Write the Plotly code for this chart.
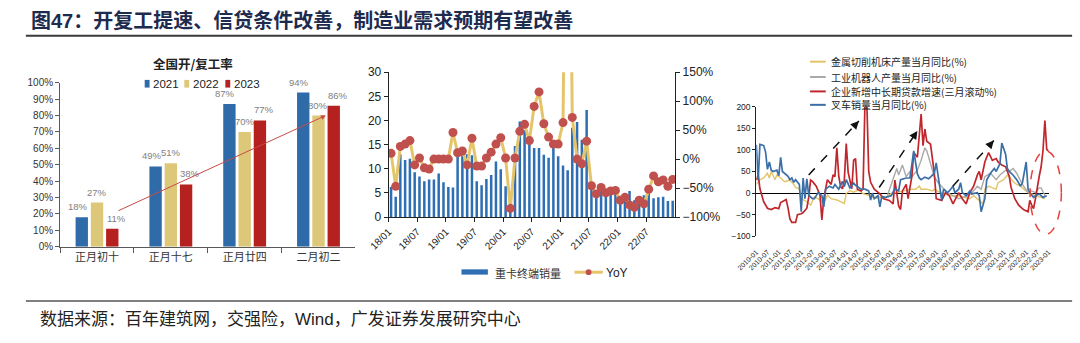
import plotly.graph_objects as go

W, H = 1080, 343
def px(x): return x / W
def py(y): return 1 - y / H

CJK = "Noto Sans CJK SC"
ARIAL = "Liberation Sans, Noto Sans CJK SC"

# ---------------- Panel 1: 全国开/复工率 ----------------
stages = ['正月初十', '正月十七', '正月廿四', '二月初二']
rate_2021 = [18, 49, 87, 94]
rate_2022 = [27, 51, 70, 80]
rate_2023 = [11, 38, 77, 86]
year_names = ['2021', '2022', '2023']
year_colors = ['#2f6ba8', '#dcc878', '#b4211e']

# ---------------- Panel 2: 重卡终端销量 (万辆) and YoY (%) ----------------
truck_months = [
    '2018-01', '2018-02', '2018-03', '2018-04', '2018-05', '2018-06', '2018-07', '2018-08', '2018-09', '2018-10', '2018-11', '2018-12',
    '2019-01', '2019-02', '2019-03', '2019-04', '2019-05', '2019-06', '2019-07', '2019-08', '2019-09', '2019-10', '2019-11', '2019-12',
    '2020-01', '2020-02', '2020-03', '2020-04', '2020-05', '2020-06', '2020-07', '2020-08', '2020-09', '2020-10', '2020-11', '2020-12',
    '2021-01', '2021-02', '2021-03', '2021-04', '2021-05', '2021-06', '2021-07', '2021-08', '2021-09', '2021-10', '2021-11', '2021-12',
    '2022-01', '2022-02', '2022-03', '2022-04', '2022-05', '2022-06', '2022-07', '2022-08', '2022-09', '2022-10', '2022-11', '2022-12',
]
truck_sales = [
    6.2, 4.2, 13.0, 11.8, 12.1, 9.3, 8.4, 7.4, 7.8, 7.8, 9.0, 7.2,
    6.2, 6.1, 14.0, 13.4, 13.0, 12.8, 7.4, 6.6, 7.9, 8.7, 11.5, 9.9,
    6.4, 1.9, 14.7, 19.8, 18.0, 15.8, 14.3, 14.3, 12.9, 12.3, 15.1, 12.6,
    10.7, 9.7, 18.5, 19.7, 16.0, 22.2, 6.8, 5.0, 5.8, 5.5, 6.1, 5.6,
    4.3, 3.6, 5.4, 3.5, 3.7, 4.5, 5.0, 3.9, 4.1, 4.2, 3.3, 3.4,
]
truck_yoy = [
    10, -47, 22, 26, 32, -10, 2, -15, -17, 0, 0, 0,
    0, 46, 11, 14, -10, 36, -12, -12, 2, 12, 26, 37,
    2, -85, 2, 48, 60, 32, 91, 116, 61, 38, 26, 26,
    63, 800, 72, 0, -8, 31, -46, -60, -49, -58, -55, -54,
    -71, -66, -79, -83, -71, -77, -52, -29, -39, -36, -47, -35,
]
truck_tick_dates = ['2018-01-01', '2018-07-01', '2019-01-01', '2019-07-01', '2020-01-01',
                    '2020-07-01', '2021-01-01', '2021-07-01', '2022-01-01', '2022-07-01']
truck_tick_labels = ['18/01', '18/07', '19/01', '19/07', '20/01', '20/07', '21/01', '21/07', '22/01', '22/07']

# ---------------- Panel 3: 制造业需求指标 (%) ----------------
tool_dates = [
    '2010-01', '2010-03', '2010-05', '2010-07', '2010-08', '2010-09', '2010-11', '2010-12',
    '2011-02', '2011-04', '2011-05', '2011-07', '2011-09', '2011-10', '2011-12',
    '2012-01', '2012-04', '2012-06', '2012-08', '2012-10', '2012-12',
    '2013-01', '2013-03', '2013-05', '2013-08', '2013-10', '2013-12',
    '2014-01', '2014-03', '2014-05', '2014-07', '2014-08', '2014-10', '2014-12',
    '2015-02', '2015-04', '2015-07', '2015-09', '2015-12',
    '2016-01', '2016-04', '2016-08', '2016-11',
    '2017-02', '2017-04', '2017-05', '2017-08', '2017-11', '2017-12',
    '2018-03', '2018-06', '2018-08', '2018-11',
    '2019-01', '2019-04', '2019-07', '2019-09', '2019-11',
    '2020-02', '2020-03', '2020-05', '2020-07', '2020-09', '2020-10',
    '2021-01', '2021-03', '2021-04', '2021-06', '2021-08', '2021-10', '2021-12',
    '2022-02', '2022-04', '2022-06', '2022-09', '2022-11',
]
tool_yoy = [
    20, 31, 35, 46, 35, 50, 31, 42,
    35, 27, 27, 31, 20, 13, 10,
    -13, -20, -28, -9, -13, -20,
    -24, -5, -13, -16, -20, -24,
    -1, 6, 2, 6, 6, -1, -4,
    -5, -13, -9, -13, -5,
    -1, 1, 6, 9,
    9, 16, 9, 9, 5, 9,
    1, -2, -6, -6,
    -6, -10, -13, -6, -13,
    -25, 9, 16, 12, 9, 24,
    31, 42, 38, 27, 20, 16, 9,
    1, -2, -6, -10, -13,
]

robot_dates = [
    '2015-11',
    '2016-01', '2016-02', '2016-04', '2016-05', '2016-07', '2016-09', '2016-11', '2016-12',
    '2017-03', '2017-05', '2017-07', '2017-08', '2017-09', '2017-11', '2017-12',
    '2018-02', '2018-05', '2018-07', '2018-10',
    '2019-01', '2019-03', '2019-06', '2019-08', '2019-11',
    '2020-01', '2020-03', '2020-06', '2020-09', '2020-11',
    '2021-02', '2021-04', '2021-06', '2021-08', '2021-10', '2021-11',
    '2022-02', '2022-04', '2022-06', '2022-08', '2022-09', '2022-11',
]
robot_yoy = [
    -5,
    20, 31, 57, 42, 65, 38, 50, 38,
    53, 76, 105, 98, 83, 57, 38,
    24, 9, 1, -6,
    -13, -10, -6, 1, 16,
    9, 38, 46, 31, 42,
    53, 50, 57, 46, 27, 20,
    1, 5, 1, 12, 12, -6,
]

loan_dates = [
    '2010-01', '2010-02', '2010-03', '2010-05', '2010-07', '2010-09', '2010-11',
    '2011-01', '2011-02', '2011-04', '2011-05', '2011-06', '2011-07', '2011-08', '2011-10', '2011-11',
    '2012-01', '2012-02', '2012-04', '2012-05', '2012-06', '2012-07', '2012-09', '2012-11', '2012-12',
    '2013-01', '2013-03', '2013-05', '2013-06', '2013-07', '2013-08', '2013-09', '2013-10', '2013-11', '2013-12',
    '2014-01', '2014-02', '2014-04', '2014-05', '2014-06', '2014-07', '2014-09', '2014-10', '2014-11', '2014-12',
    '2015-01', '2015-02', '2015-04', '2015-07', '2015-09', '2015-12',
    '2016-02', '2016-03', '2016-05', '2016-06', '2016-07', '2016-09', '2016-10', '2016-11', '2016-12',
    '2017-01', '2017-03', '2017-05', '2017-06', '2017-07', '2017-08', '2017-10', '2017-11', '2017-12',
    '2018-01', '2018-04', '2018-06', '2018-08', '2018-10', '2018-12',
    '2019-01', '2019-03', '2019-05', '2019-07', '2019-09', '2019-11', '2019-12',
    '2020-01', '2020-03', '2020-05', '2020-07', '2020-09', '2020-10', '2020-12',
    '2021-02', '2021-04', '2021-05', '2021-07', '2021-09', '2021-11', '2021-12',
    '2022-02', '2022-03', '2022-04', '2022-05', '2022-06', '2022-07', '2022-08', '2022-09', '2022-10', '2022-11', '2022-12',
    '2023-01',
]
loan_growth = [
    30, 42, 10, -20, -35, -38, -34,
    -36, -22, -18, -15, -35, -60, -68, -68, -50,
    -48, -45, -35, -10, 30, 27, 16, -5, -62,
    -13, 31, 20, 42, 38, 105, 40, 15, 10, 30,
    115, 48, 10, 76, 80, 9, 5, 10, 210, 210,
    50, 25, 9, -2, -13, -17,
    -25, 30, -30, -38, 5, 20, -13, 9, 38,
    94, 83, 183, 110, 148, 120, 113, 83, 46,
    -13, -17, 1, -6, -25, -6,
    1, -13, -25, 1, 16, 42, 50,
    31, 72, 94, 76, 80, 72, 65,
    61, 39, 13, -13, -28, -36, -39,
    -43, -17, -28, -36, -13, 16, 39, 61, 98, 168, 101,
    98,
]

forklift_dates = [
    '2010-01', '2010-02', '2010-03', '2010-05', '2010-06', '2010-07', '2010-08', '2010-09', '2010-10', '2010-12',
    '2011-01', '2011-02', '2011-03', '2011-04', '2011-06', '2011-07', '2011-08', '2011-09', '2011-10', '2011-12',
    '2012-01', '2012-02', '2012-03', '2012-04', '2012-05', '2012-07', '2012-08', '2012-10', '2012-12',
    '2013-01', '2013-02', '2013-04', '2013-06', '2013-07', '2013-09', '2013-11', '2013-12',
    '2014-01', '2014-03', '2014-05', '2014-06', '2014-08', '2014-09', '2014-11',
    '2015-01', '2015-02', '2015-03', '2015-04', '2015-06', '2015-07', '2015-08', '2015-10',
    '2016-01', '2016-03', '2016-05', '2016-06', '2016-09', '2016-11',
    '2017-01', '2017-03', '2017-04', '2017-05', '2017-07', '2017-09', '2017-11', '2017-12',
    '2018-01', '2018-03', '2018-04', '2018-05', '2018-07', '2018-08', '2018-10', '2018-11',
    '2019-01', '2019-02', '2019-03', '2019-05', '2019-07', '2019-08', '2019-11', '2019-12',
    '2020-01', '2020-03', '2020-04', '2020-06', '2020-08', '2020-09', '2020-11', '2020-12',
    '2021-02', '2021-03', '2021-04', '2021-06', '2021-08', '2021-10', '2021-11',
    '2022-01', '2022-02', '2022-03', '2022-05', '2022-06', '2022-08', '2022-10', '2022-12',
]
forklift_yoy = [
    112, 30, 113, 110, 95, 55, 72, 53, 50, 53,
    40, 83, 50, 46, 39, 31, 35, 25, 31, 20,
    -43, 35, -13, 33, -5, -13, -13, 1, -6,
    -32, 9, 16, 12, 20, 9, 27, 15,
    31, 12, 23, 18, 12, 9, 9,
    5, -16, 0, -13, -6, -32, -8, -10,
    -6, 10, 5, 31, 35, 35,
    98, 45, 35, 31, 37, 33, 42, 46,
    70, 9, -17, 9, 1, 5, 16, 1,
    9, 24, 1, -6, 5, -2, 1, -6,
    -43, -13, 31, 46, 57, 50, 68, 116,
    90, 57, 50, 42, 31, 16, 24,
    72, 9, 1, -10, -6, -2, -10, -6,
]

series3_names = ['金属切削机床产量当月同比(%)', '工业机器人产量当月同比(%)',
                 '企业新增中长期贷款增速(三月滚动%)', '叉车销量当月同比(%)']
series3_colors = ['#e3c46a', '#a9a9a9', '#c0272d', '#3b6fa8']

axis3_tick_labels = ['2010-01', '2010-07', '2011-01', '2011-07', '2012-01', '2012-07', '2013-01',
                     '2013-07', '2014-01', '2014-07', '2015-01', '2015-07', '2016-01', '2016-07',
                     '2017-01', '2017-07', '2018-01', '2018-07', '2019-01', '2019-07', '2020-01',
                     '2020-07', '2021-01', '2021-07', '2022-01', '2022-07', '2023-01']

# dashed trend arrows (start date, start value, end date, end value)
trend_arrows = [
    ('2012-05-01', 42, '2014-07-25', 167),
    ('2015-06-20', 13, '2017-03-01', 144),
    ('2018-09-28', 16, '2020-07-25', 122),
]
trend_heads = [(-6.8, 7.3), (-5.5, 8.3), (-6.6, 7.5)]

assert len(truck_months) == len(truck_sales) == len(truck_yoy)
assert len(tool_dates) == len(tool_yoy)
assert len(robot_dates) == len(robot_yoy)
assert len(loan_dates) == len(loan_growth)
assert len(forklift_dates) == len(forklift_yoy)

fig = go.Figure()

# Panel 1 bars
for name, vals, col in zip(year_names, [rate_2021, rate_2022, rate_2023], year_colors):
    fig.add_trace(go.Bar(
        x=stages, y=vals, name=name, marker=dict(color=col, line=dict(width=0)),
        xaxis='x', yaxis='y', showlegend=False,
    ))

# Panel 2 bars + YoY line
fig.add_trace(go.Bar(
    x=truck_months, y=truck_sales, name='重卡终端销量', marker=dict(color='#2e6eb3', line=dict(width=0)),
    xperiod='M1', xperiodalignment='middle', width=1382400000,
    xaxis='x2', yaxis='y2', showlegend=False,
))
fig.add_trace(go.Scatter(
    x=truck_months, y=truck_yoy, name='YoY', mode='lines+markers',
    line=dict(color='#e5c56b', width=3), marker=dict(color='#c0504d', size=9),
    xperiod='M1', xperiodalignment='middle',
    xaxis='x2', yaxis='y3', showlegend=False,
))

# Panel 3 lines
for name, xs, ys, col, w in zip(series3_names,
                                [tool_dates, robot_dates, loan_dates, forklift_dates],
                                [tool_yoy, robot_yoy, loan_growth, forklift_yoy],
                                series3_colors, [1.4, 1.4, 1.7, 1.7]):
    fig.add_trace(go.Scatter(
        x=xs, y=ys, name=name, mode='lines', line=dict(color=col, width=w),
        xaxis='x4', yaxis='y4', showlegend=False,
    ))

shapes = []
annotations = []

# Panel 1 data labels (above each bar, nudged apart like the original)
slot = (1 - 0.38) / 3
for j, vals in enumerate([rate_2021, rate_2022, rate_2023]):
    for i, v in enumerate(vals):
        annotations.append(dict(text=f'{v}%', x=i + (j - 1) * slot, y=v, xref='x', yref='y',
                                xanchor='center', yanchor='bottom', yshift=3, xshift=(j - 1) * 4,
                                showarrow=False, font=dict(family=ARIAL, size=9.5, color='#808080')))

# Title, rules and source
annotations.append(dict(text='<b>图47：开复工提速、信贷条件改善，制造业需求预期有望改善</b>',
                        x=px(8), y=py(15), xref='paper', yref='paper', xanchor='left', yanchor='middle',
                        showarrow=False, font=dict(family=ARIAL, size=20, color='#1d2b4f')))
shapes.append(dict(type='line', xref='paper', yref='paper', x0=px(5), x1=px(1075), y0=py(30), y1=py(30),
                   line=dict(color='#3a3a3a', width=2)))
shapes.append(dict(type='line', xref='paper', yref='paper', x0=px(5), x1=px(1075), y0=py(306.5), y1=py(306.5),
                   line=dict(color='#555555', width=1.5)))
annotations.append(dict(text='数据来源：百年建筑网，交强险，Wind，广发证券发展研究中心',
                        x=px(17), y=py(326), xref='paper', yref='paper', xanchor='left', yanchor='middle',
                        showarrow=False, font=dict(family=ARIAL, size=17, color='#222222')))

# Panel 1 subtitle and legend
annotations.append(dict(text='<b>全国开/复工率</b>', x=px(176), y=py(59), xref='paper', yref='paper',
                        xanchor='center', yanchor='middle', showarrow=False,
                        font=dict(family=CJK, size=12.5, color='#222222')))
for (sx, tx), name, col in zip([(126.5, 133), (167, 173.5), (209, 215.5)], year_names, year_colors):
    shapes.append(dict(type='rect', xref='paper', yref='paper', x0=px(sx), x1=px(sx + 5),
                       y0=py(84), y1=py(76), fillcolor=col, line=dict(width=0)))
    annotations.append(dict(text=name, x=px(tx), y=py(80.5), xref='paper', yref='paper',
                            xanchor='left', yanchor='middle', showarrow=False,
                            font=dict(family=ARIAL, size=11.5, color='#222222')))
# Panel 1 trend arrow
annotations.append(dict(x=3.10, y=80.1, ax=0.27, ay=21.6, xref='x', yref='y', axref='x', ayref='y',
                        text='', showarrow=True, arrowhead=2, arrowsize=1, arrowwidth=1,
                        arrowcolor='#c94a45'))

# Panel 2 legend
shapes.append(dict(type='rect', xref='paper', yref='paper', x0=px(450.5), x1=px(477.5),
                   y0=py(279), y1=py(273.5), fillcolor='#2e6eb3', line=dict(width=0)))
annotations.append(dict(text='重卡终端销量', x=px(482.5), y=py(277), xref='paper', yref='paper',
                        xanchor='left', yanchor='middle', showarrow=False,
                        font=dict(family=CJK, size=11, color='#333333')))
shapes.append(dict(type='line', xref='paper', yref='paper', x0=px(566), x1=px(595),
                   y0=py(276.5), y1=py(276.5), line=dict(color='#e5c56b', width=3)))
shapes.append(dict(type='circle', xref='paper', yref='paper', x0=px(577.5), x1=px(583.5),
                   y0=py(279.5), y1=py(273.5), fillcolor='#c0504d', line=dict(width=0)))
annotations.append(dict(text='YoY', x=px(596.5), y=py(277), xref='paper', yref='paper',
                        xanchor='left', yanchor='middle', showarrow=False,
                        font=dict(family=ARIAL, size=12, color='#222222')))

# Panel 3 legend
for yy, name, col in zip([57, 73, 88, 102], series3_names, series3_colors):
    shapes.append(dict(type='line', xref='paper', yref='paper', x0=px(807), x1=px(823),
                       y0=py(yy), y1=py(yy), line=dict(color=col, width=2)))
    annotations.append(dict(text=name, x=px(826.5), y=py(yy), xref='paper', yref='paper',
                            xanchor='left', yanchor='middle', showarrow=False,
                            font=dict(family=CJK, size=10, color='#222222')))

# Panel 3 dashed arrows and ellipse
for (d0, v0, d1, v1), (hx, hy) in zip(trend_arrows, trend_heads):
    shapes.append(dict(type='line', xref='x4', yref='y4', x0=d0, y0=v0, x1=d1, y1=v1,
                       line=dict(color='#111111', width=1.5, dash='dash')))
    annotations.append(dict(x=d1, y=v1, xref='x4', yref='y4', ax=hx, ay=hy, text='',
                            showarrow=True, arrowhead=2, arrowsize=1.1, arrowwidth=1.5,
                            arrowcolor='#111111'))
shapes.append(dict(type='circle', xref='paper', yref='paper', x0=px(1032), x1=px(1064),
                   y0=py(237), y1=py(150), line=dict(color='#e8413c', width=1.5, dash='dash')))

axis_font = dict(family=ARIAL, size=10, color='#333333')

fig.update_layout(
    width=W, height=H, margin=dict(l=0, r=0, t=0, b=0),
    paper_bgcolor='white', plot_bgcolor='rgba(0,0,0,0)',
    barmode='group', bargap=0.38, bargroupgap=0.19,
    showlegend=False,
    shapes=shapes, annotations=annotations,
    xaxis=dict(domain=[px(40), px(342)], anchor='y', type='category', showline=True,
               linecolor='#595959', linewidth=1, ticks='outside', tickson='boundaries', ticklen=5,
               tickcolor='#595959', tickfont=dict(family=CJK, size=11, color='#333333'),
               showgrid=False, zeroline=False, fixedrange=True),
    yaxis=dict(domain=[py(250), py(79)], anchor='x', range=[0, 100], dtick=10, ticksuffix='%',
               showline=True, linecolor='#595959', ticks='outside', ticklen=4, tickcolor='#595959',
               tickfont=axis_font, showgrid=False, zeroline=False),
    xaxis2=dict(domain=[px(376), px(669)], anchor='y2', type='date',
                range=['2018-01-01', '2023-01-01'], tickvals=truck_tick_dates, ticktext=truck_tick_labels,
                tickangle=-45, ticks='outside', ticklen=4, tickcolor='#222222', showline=True,
                linecolor='#222222', tickfont=dict(family=ARIAL, size=10, color='#222222'),
                showgrid=False, zeroline=False),
    yaxis2=dict(domain=[py(219), py(68)], anchor='x2', range=[0, 30], dtick=5, showline=True,
                linecolor='#222222', ticks='outside', ticklen=4, tickcolor='#222222',
                tickfont=dict(family=ARIAL, size=12, color='#222222'), showgrid=False, zeroline=False),
    yaxis3=dict(overlaying='y2', side='right', anchor='x2', range=[-100, 150], dtick=50, ticksuffix='%',
                showline=True, linecolor='#222222', ticks='outside', ticklen=4, tickcolor='#222222',
                tickfont=dict(family=ARIAL, size=12, color='#222222'), showgrid=False, zeroline=False),
    xaxis4=dict(domain=[px(752), px(1051)], anchor='y4', type='date',
                range=['2010-01-01', '2023-01-01'],
                tickvals=[t + '-01' for t in axis3_tick_labels], ticktext=axis3_tick_labels,
                tickangle=-45, ticks='outside', ticklen=8, tickcolor='rgba(0,0,0,0)', showline=False,
                tickfont=dict(family=ARIAL, size=7, color='#222222'), showgrid=False, zeroline=False),
    yaxis4=dict(domain=[py(239), py(104)], anchor='x4', range=[-100, 200], dtick=50, showline=True,
                linecolor='#222222', ticks='outside', ticklen=3, tickcolor='#222222',
                tickfont=dict(family=ARIAL, size=8.5, color='#222222'), showgrid=False,
                zeroline=True, zerolinecolor='#000000', zerolinewidth=1),
)

fig.write_html("out.html")
